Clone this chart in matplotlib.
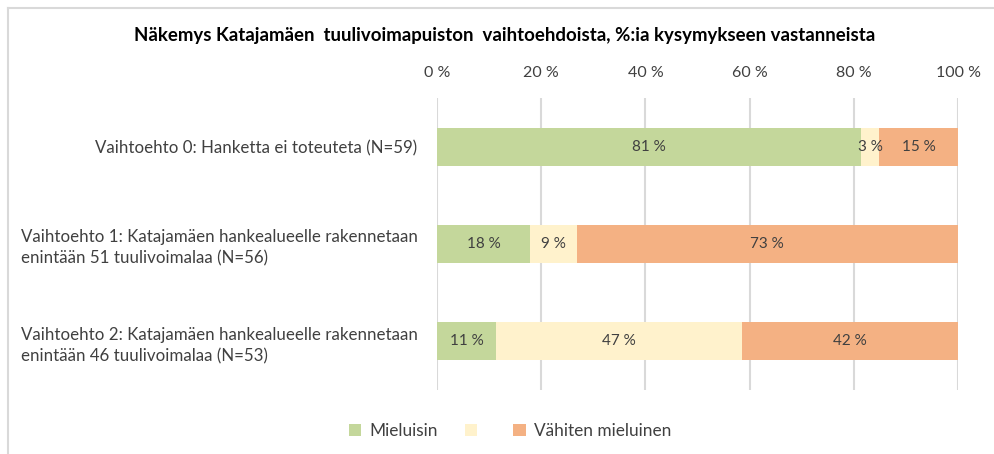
import matplotlib
matplotlib.use("Agg")
import matplotlib.pyplot as plt
from matplotlib.patches import Patch
from matplotlib.lines import Line2D

plt.rcParams['font.family'] = ['Lato', 'DejaVu Sans']

categories = [
    "Vaihtoehto 0: Hanketta ei toteuteta (N=59)",
    "Vaihtoehto 1: Katajamäen hankealueelle rakennetaan\nenintään 51 tuulivoimalaa (N=56)",
    "Vaihtoehto 2: Katajamäen hankealueelle rakennetaan\nenintään 46 tuulivoimalaa (N=53)",
]
series_names = ["Mieluisin", "", "Vähiten mieluinen"]
mieluisin = [81.4, 17.9, 11.3]
neutral = [3.4, 8.9, 47.2]
vahiten = [15.2, 73.2, 41.5]
xticks = [0, 20, 40, 60, 80, 100]
xtick_labels = ["0 %", "20 %", "40 %", "60 %", "80 %", "100 %"]
title = "Näkemys Katajamäen  tuulivoimapuiston  vaihtoehdoista, %:ia kysymykseen vastanneista"

colors = ["#c4d79b", "#fff2cc", "#f4b183"]
text_color = "#404040"

fig = plt.figure(figsize=(9.94, 4.54), dpi=100)
ax = fig.add_axes([437/994, 1-390/454, (958-437)/994, (390-98)/454])

ypos = list(range(len(categories)))
left = [0.0]*len(categories)
for vals, col, name in zip([mieluisin, neutral, vahiten], colors, series_names):
    bars = ax.barh(ypos, vals, left=left, height=0.39, color=col, zorder=3)
    for b, v in zip(bars, vals):
        ax.text(b.get_x() + b.get_width()/2, b.get_y() + b.get_height()/2,
                f"{v:.0f} %", ha="center", va="center", fontsize=11,
                color=text_color, zorder=4)
    left = [l + v for l, v in zip(left, vals)]

ax.set_xlim(0, 100)
ax.set_ylim(2.5, -0.5)
ax.set_xticks(xticks)
ax.set_xticklabels(xtick_labels)
ax.xaxis.tick_top()
ax.tick_params(axis="x", length=0, pad=13, labelsize=11.5, labelcolor=text_color)
ax.set_yticks(ypos)
ax.set_yticklabels(categories, multialignment="left", linespacing=1.4)
ax.tick_params(axis="y", length=0, pad=14, labelsize=12.2, labelcolor=text_color)
ax.grid(axis="x", color="#d9d9d9", linewidth=1.5, zorder=0)
for s in ax.spines.values():
    s.set_visible(False)

fig.text(505/994, 1-36/454, title, ha="center", va="center",
         fontsize=13.4, fontweight="bold", color="#000000")

handles = [Patch(facecolor=c, edgecolor="none") for c in colors]
fig.legend(handles, series_names, loc="center", bbox_to_anchor=(510/994, 1-431/454),
           ncol=3, frameon=False, fontsize=12.4, handlelength=0.7, handleheight=0.7,
           handletextpad=0.5, columnspacing=1.6, labelcolor=text_color)

# outer chart border (left and top visible)
fig.add_artist(Line2D([8/994, 8/994], [0, 1-8/454], transform=fig.transFigure,
                      color="#d9d9d9", linewidth=1.5))
fig.add_artist(Line2D([8/994, 1], [1-8/454, 1-8/454], transform=fig.transFigure,
                      color="#d9d9d9", linewidth=1.5))

fig.savefig("out.png", dpi=100, facecolor="white")
